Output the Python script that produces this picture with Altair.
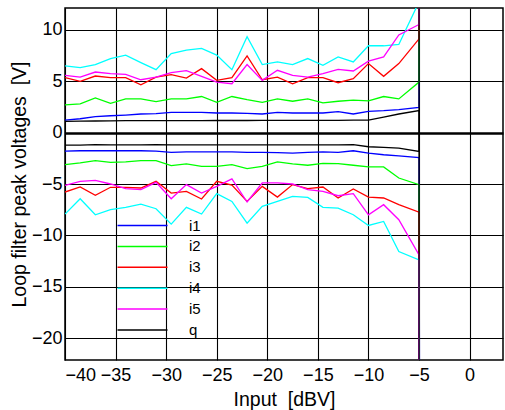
import altair as alt
import pandas as pd

# Input level [dBV] of each measured point (last one is the -5 dBV end point)
x_db = [-40, -38.5, -37, -35.5, -34, -32.5, -31, -29.5, -28, -26.5, -25, -23.5,
        -22, -20.5, -19, -17.5, -16, -14.5, -13, -11.5, -10, -8.5, -7, -5]

series_names = ["i1", "i2", "i3", "i4", "i5", "q"]
series_colors = ["#0000ff", "#00ff00", "#ff0000", "#00ffff", "#ff00ff", "#000000"]

# positive peak voltages [V]
i1_pos = [1.21, 1.34, 1.54, 1.63, 1.70, 1.80, 1.83, 1.96, 1.96, 1.96, 1.90, 1.90,
          1.86, 1.80, 1.96, 1.90, 1.90, 1.90, 2.03, 1.80, 2.06, 2.12, 2.22, 2.45]
i2_pos = [2.68, 2.78, 3.37, 2.84, 3.27, 3.27, 3.00, 3.27, 3.27, 3.50, 2.94, 3.50,
          3.20, 2.94, 3.27, 3.04, 3.27, 2.88, 3.04, 3.14, 3.07, 3.50, 3.27, 4.90]
i3_pos = [5.33, 4.97, 5.49, 5.33, 5.33, 4.64, 5.39, 5.62, 5.29, 6.21, 5.07, 5.33,
          7.45, 5.13, 5.39, 4.74, 5.33, 5.33, 4.84, 5.23, 6.70, 5.46, 6.70, 9.10]
i4_pos = [6.47, 6.31, 6.60, 7.19, 7.52, 6.80, 6.11, 7.68, 8.00, 8.17, 7.52, 6.11,
          9.31, 6.60, 6.86, 6.60, 7.19, 6.54, 7.35, 6.86, 8.43, 8.43, 8.56, 12.7]
i5_pos = [5.56, 5.39, 5.88, 5.72, 5.65, 5.13, 5.39, 5.82, 6.01, 5.46, 4.90, 4.74,
          6.60, 5.07, 6.05, 5.56, 5.39, 5.72, 6.14, 5.98, 6.93, 7.35, 9.48, 10.5]
q_pos = [1.08, 1.10, 1.12, 1.14, 1.15, 1.15, 1.15, 1.16, 1.16, 1.16, 1.17, 1.17,
         1.17, 1.18, 1.18, 1.18, 1.18, 1.19, 1.19, 1.20, 1.20, 1.50, 1.80, 2.13]

# negative peak voltages [V]
i1_neg = [-1.80, -1.77, -1.77, -1.77, -1.77, -1.77, -1.80, -1.93, -1.87, -1.87, -1.87, -1.87,
          -1.93, -1.93, -1.96, -2.00, -1.93, -1.87, -1.93, -1.77, -2.00, -2.16, -2.26, -2.43]
i2_neg = [-3.12, -2.95, -2.73, -2.89, -2.86, -2.73, -2.73, -3.21, -3.05, -3.28, -3.28, -3.12,
          -3.51, -3.28, -2.86, -3.05, -3.18, -2.99, -3.02, -3.18, -3.34, -3.34, -4.42, -5.06]
i3_neg = [-5.78, -5.29, -6.10, -5.32, -5.32, -5.39, -4.74, -5.88, -5.71, -6.46, -4.74, -5.10,
          -6.69, -5.23, -6.27, -5.06, -5.45, -5.29, -6.36, -5.49, -6.27, -6.36, -7.01, -7.73]
i4_neg = [-7.92, -6.43, -7.99, -7.50, -7.27, -6.95, -7.40, -8.90, -7.27, -7.92, -5.94, -6.69,
          -8.80, -7.18, -6.69, -6.20, -6.30, -7.27, -7.34, -7.99, -9.03, -8.64, -11.56, -12.37]
i5_neg = [-5.13, -4.74, -4.64, -5.00, -5.45, -5.55, -4.84, -6.43, -5.06, -5.88, -5.23, -4.50,
          -6.75, -4.90, -4.90, -5.00, -5.55, -5.71, -6.14, -5.94, -7.99, -7.01, -8.47, -11.9]
q_neg = [-1.22, -1.22, -1.18, -1.20, -1.20, -1.20, -1.18, -1.20, -1.20, -1.20, -1.20, -1.20,
         -1.20, -1.20, -1.20, -1.20, -1.20, -1.20, -1.20, -1.18, -1.38, -1.45, -1.51, -1.84]

# where each trace jumps off the plotted range at the end of the sweep
jump_x = [-4.88, -4.97, -5.1, -5.06, -5.14, -5.0]
jump_pos = [60, 60, 60, 60, 60, -60]
jump_neg = [-60, -60, -60, -60, -60, 60]

pos = [i1_pos, i2_pos, i3_pos, i4_pos, i5_pos, q_pos]
neg = [i1_neg, i2_neg, i3_neg, i4_neg, i5_neg, q_neg]

rows = []
for s, name in enumerate(series_names):
    for branch, vals, jump in (("pos", pos[s], jump_pos[s]), ("neg", neg[s], jump_neg[s])):
        for i, (x, v) in enumerate(zip(x_db, vals)):
            rows.append({"x": x, "v": v, "series": name, "trace": name + branch, "i": i})
        rows.append({"x": jump_x[s], "v": jump, "series": name, "trace": name + branch, "i": len(vals)})
df = pd.DataFrame(rows)

x_ticks = [-40, -35, -30, -25, -20, -15, -10, -5, 0]
y_ticks = [-20, -15, -10, -5, 0, 5, 10]

font = "Liberation Sans"

chart = alt.Chart(df).mark_line(strokeWidth=1.3, clip=True).encode(
    x=alt.X("x:Q",
            scale=alt.Scale(domain=[-40, 3.3], nice=False, zero=False),
            axis=alt.Axis(values=x_ticks, title="Input\u00a0 [dBV]", labelPadding=6,
                          titlePadding=6)),
    y=alt.Y("v:Q",
            scale=alt.Scale(domain=[-22.1, 12.1], nice=False, zero=False),
            axis=alt.Axis(values=y_ticks, title="Loop filter peak voltages\u00a0 [V]",
                          labelPadding=3, titlePadding=2,
                          gridWidth={"condition": {"test": "datum.value === 0", "value": 2.5}, "value": 1.1})),
    color=alt.Color("series:N",
                    scale=alt.Scale(domain=series_names, range=series_colors),
                    legend=alt.Legend(orient="none", legendX=70, legendY=210, title=None,
                                      symbolType="M-5,0H5", symbolSize=100, symbolStrokeWidth=1.5,
                                      labelFontSize=15, labelFont=font, labelColor="black",
                                      labelOffset=39, rowPadding=4.9)),
    detail="trace:N",
    order="i:Q",
).properties(
    width=438, height=352,
    autosize=alt.AutoSizeParams(type="none"),
    padding={"left": 65, "top": 8, "right": 2, "bottom": 50},
).configure_view(
    stroke="black", strokeWidth=1.5
).configure_axis(
    grid=True, gridColor="black", gridOpacity=1, gridWidth=1.1,
    domain=False, ticks=False,
    labelFont=font, labelFontSize=18, labelColor="black",
    titleFont=font, titleFontSize=19.5, titleColor="black", titleFontWeight="normal",
)

chart.save("out.html", embed_options={"renderer": "svg", "actions": False})
